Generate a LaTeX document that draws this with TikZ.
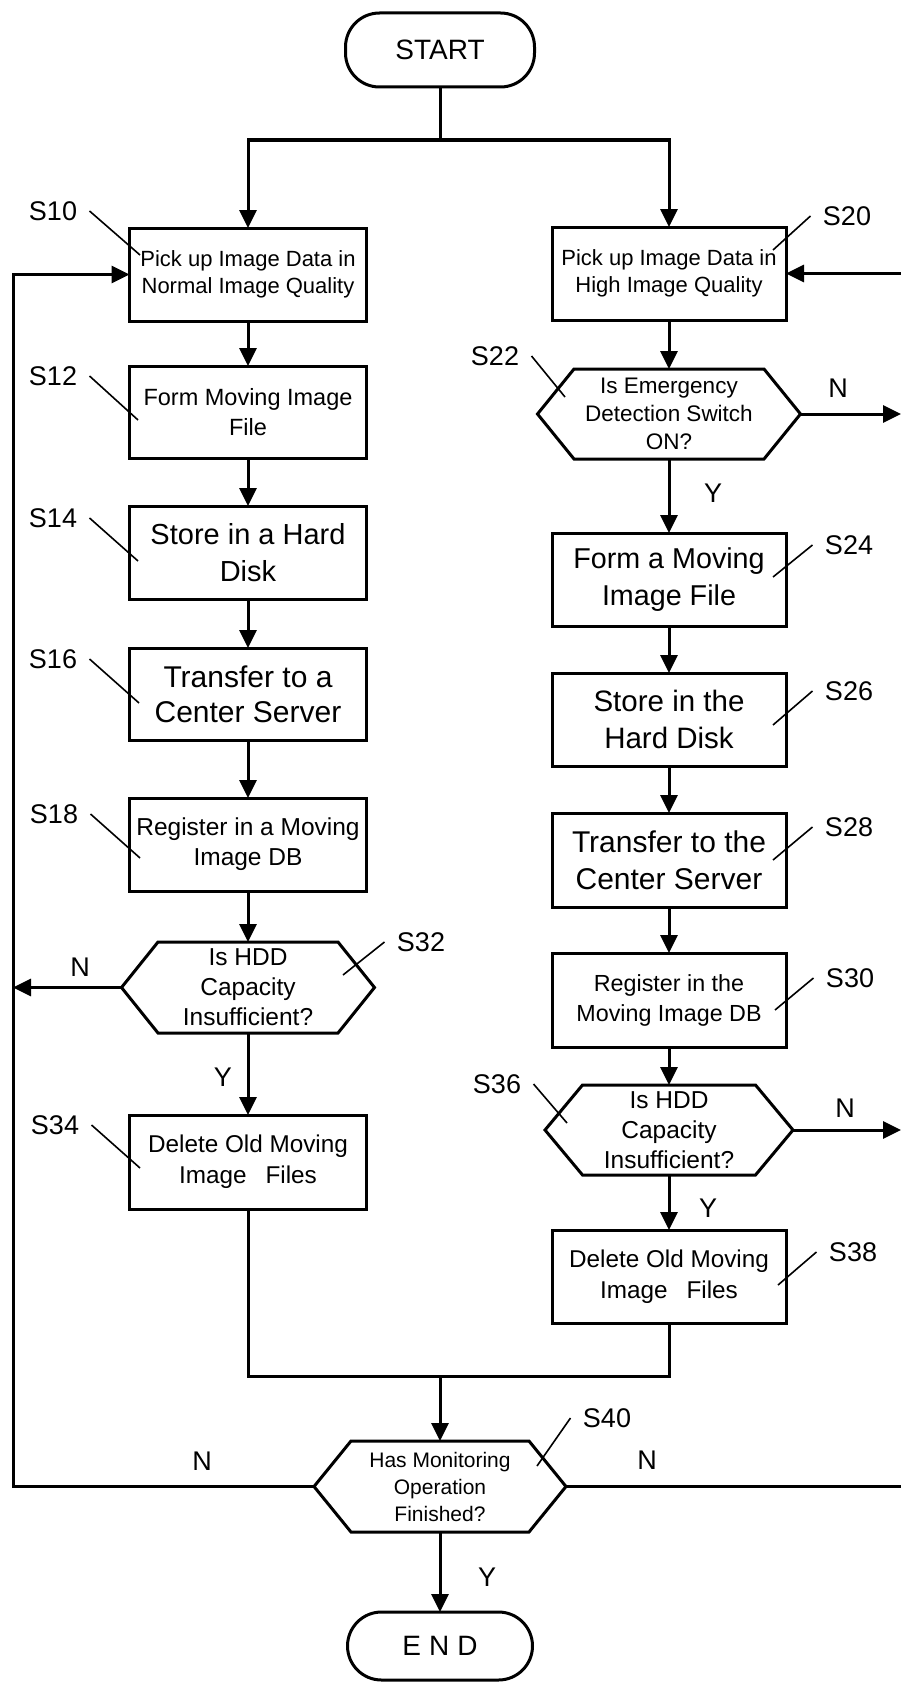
\documentclass[tikz,border=0pt]{standalone}
\usepackage{fontspec}
\setmainfont{Liberation Sans}
\usetikzlibrary{arrows.meta}
\newcommand{\myfs}[2]{\fontsize{#1}{#2}\selectfont}
\newcommand{\hexout}[2]{\draw[line width=3pt,line join=miter] ([xshift=#2pt]#1.north west) -- ([xshift=-#2pt]#1.north east) -- (#1.east) -- ([xshift=-#2pt]#1.south east) -- ([xshift=#2pt]#1.south west) -- (#1.west) -- cycle;}
\begin{document}
\begin{tikzpicture}[x=1pt,y=-1pt,
  line width=3pt,
  lbox/.style={draw, line width=3pt, minimum width=237pt, minimum height=93pt, inner sep=0pt, outer sep=0pt, align=center},
  rbox/.style={lbox, minimum width=234pt},
  hexa/.style={inner sep=0pt, outer sep=0pt, align=center},
  term/.style={draw, line width=3pt, rounded corners=34pt, minimum width=189pt, minimum height=74pt, inner sep=0pt, outer sep=0pt},
  arr/.style={-{Triangle[length=18pt,width=17pt]}},
  lead/.style={line width=1.6pt},
  slab/.style={inner sep=0pt, font=\myfs{27}{32}},
  yn/.style={inner sep=0pt, font=\myfs{27}{32}}
]
\useasboundingbox (0,0) rectangle (901,1683);

% terminals
\node[term, font=\myfs{28}{32}] (start) at (440,50) {START};
\node[term, minimum width=185pt, minimum height=68pt, font=\myfs{28}{32}] (end) at (440,1646) {E\hspace{8pt}N\hspace{8pt}D};

% left column
\node[lbox, font=\myfs{22}{27}] (s10) at (248,274.5) {Pick up Image Data in\\Normal Image Quality};
\node[lbox, minimum height=92pt, font=\myfs{23.5}{30}] (s12) at (248,412) {Form Moving Image\\File};
\node[lbox, font=\myfs{29}{37}] (s14) at (248,552.5) {Store in a Hard\\Disk};
\node[lbox, minimum height=92pt, font=\myfs{30}{35}] (s16) at (248,694) {Transfer to a\\Center Server};
\node[lbox, font=\myfs{24.5}{30}] (s18) at (248,844.5) {Register in a Moving\\Image DB};
\node[hexa, minimum width=253pt, minimum height=91pt, font=\myfs{24.5}{30}] (s32) at (248,987.5) {Is HDD\\Capacity\\Insufficient?};
\node[lbox, minimum height=94pt, font=\myfs{24.3}{31}] (s34) at (248,1162) {Delete Old Moving\\Image\hspace{0.5em} Files};

% right column
\node[rbox, font=\myfs{22}{27}] (s20) at (669,273.5) {Pick up Image Data in\\High Image Quality};
\node[hexa, minimum width=263pt, minimum height=90pt, font=\myfs{22.5}{28}] (s22) at (669,414) {Is Emergency\\Detection Switch\\ON?};
\node[rbox, font=\myfs{28.7}{37}] (s24) at (669,579.5) {Form a Moving\\Image File};
\node[rbox, font=\myfs{29.5}{37}] (s26) at (669,719.5) {Store in the\\Hard Disk};
\node[rbox, minimum height=94pt, font=\myfs{30}{37}] (s28) at (669,860) {Transfer to the\\Center Server};
\node[rbox, minimum height=94pt, font=\myfs{23.3}{30}] (s30) at (669,1000) {Register in the\\Moving Image DB};
\node[hexa, minimum width=248pt, minimum height=90pt, font=\myfs{24.5}{30}] (s36) at (669,1130) {Is HDD\\Capacity\\Insufficient?};
\node[rbox, font=\myfs{24.3}{31}] (s38) at (669,1276.5) {Delete Old Moving\\Image\hspace{0.5em} Files};

% center decision
\node[hexa, minimum width=252pt, minimum height=91pt, font=\myfs{21}{27}] (s40) at (440,1486.5) {Has Monitoring\\Operation\\Finished?};

\hexout{s22}{36.5}
\hexout{s32}{36.5}
\hexout{s36}{37.5}
\hexout{s40}{37}

% helper coordinates
\coordinate (split) at (440,140);
\coordinate (merge) at (440,1376);
\coordinate (lb) at (13,1486.5);
\coordinate (rb) at (901,1486.5);
\coordinate (rt) at (901,273.5);

% connectors
\draw (start.south) -- (split);
\draw[arr] (split) -| (s10.north);
\draw[arr] (split) -| (s20.north);
\draw[arr] (s10) -- (s12);
\draw[arr] (s12) -- (s14);
\draw[arr] (s14) -- (s16);
\draw[arr] (s16) -- (s18);
\draw[arr] (s18.south) -- (s32.north);
\draw[arr] (s32.south) -- (s34.north);
\draw (s34.south) |- (merge);
\draw[arr] (s20.south) -- (s22.north);
\draw[arr] (s22.south) -- (s24.north);
\draw[arr] (s24) -- (s26);
\draw[arr] (s26) -- (s28);
\draw[arr] (s28) -- (s30);
\draw[arr] (s30.south) -- (s36.north);
\draw[arr] (s36.south) -- (s38.north);
\draw (s38.south) |- (merge);
\draw[arr] (merge) -- (s40.north);
\draw[arr] (s40.south) -- (end.north);
\draw[arr] (s40.west) -- (lb) |- (s10.west);
\draw[arr] (s32.west) -- (s32.west -| lb);
\draw (s40.east) -- (rb);
\draw[arr] (rt) -- (s20.east);
\draw[arr] (s22.east) -- (s22.east -| rb);
\draw[arr] (s36.east) -- (s36.east -| rb);

% Y / N labels
\node[yn] (n22) at (838,388) {N};
\node[yn] (y22) at (713,493) {Y};
\node[yn] (n32) at (80,967) {N};
\node[yn] (y32) at (223,1077) {Y};
\node[yn] (n36) at (845,1108) {N};
\node[yn] (y36) at (708,1208) {Y};
\node[yn] (n40l) at (202,1461) {N};
\node[yn] (n40r) at (647,1460) {N};
\node[yn] (y40) at (487,1577) {Y};

% step labels
\node[slab] (l10) at (53,211) {S10};
\node[slab] (l12) at (53,376) {S12};
\node[slab] (l14) at (53,518) {S14};
\node[slab] (l16) at (53,659) {S16};
\node[slab] (l18) at (54,814) {S18};
\node[slab] (l34) at (55,1125) {S34};
\node[slab] (l22) at (495,356) {S22};
\node[slab] (l32) at (421,942) {S32};
\node[slab] (l36) at (497,1084) {S36};
\node[slab] (l20) at (847,216) {S20};
\node[slab] (l24) at (849,545) {S24};
\node[slab] (l26) at (849,691) {S26};
\node[slab] (l28) at (849,827) {S28};
\node[slab] (l30) at (850,978) {S30};
\node[slab] (l38) at (853,1252) {S38};
\node[slab] (l40) at (607,1418) {S40};

% leader end points
\coordinate (e10) at (140,255);
\coordinate (e12) at (138,420);
\coordinate (e14) at (138,561);
\coordinate (e16) at (139,703);
\coordinate (e18) at (140,858);
\coordinate (e34) at (140,1168);
\coordinate (e22) at (565,397);
\coordinate (e36) at (567,1123);
\coordinate (e32) at (343,975);
\coordinate (e20) at (773,250);
\coordinate (e24) at (773,577);
\coordinate (e26) at (773,725);
\coordinate (e28) at (773,860);
\coordinate (e30) at (775,1010);
\coordinate (e38) at (778,1285);
\coordinate (e40) at (537,1466);

\draw[lead] ([xshift=11pt]l10.east) -- (e10);
\draw[lead] ([xshift=11pt]l12.east) -- (e12);
\draw[lead] ([xshift=11pt]l14.east) -- (e14);
\draw[lead] ([xshift=11pt]l16.east) -- (e16);
\draw[lead] ([xshift=11pt]l18.east) -- (e18);
\draw[lead] ([xshift=11pt]l34.east) -- (e34);
\draw[lead] ([xshift=11pt]l22.east) -- (e22);
\draw[lead] ([xshift=11pt]l36.east) -- (e36);
\draw[lead] ([xshift=-11pt]l32.west) -- (e32);
\draw[lead] ([xshift=-11pt]l20.west) -- (e20);
\draw[lead] ([xshift=-11pt]l24.west) -- (e24);
\draw[lead] ([xshift=-11pt]l26.west) -- (e26);
\draw[lead] ([xshift=-11pt]l28.west) -- (e28);
\draw[lead] ([xshift=-11pt]l30.west) -- (e30);
\draw[lead] ([xshift=-11pt]l38.west) -- (e38);
\draw[lead] ([xshift=-11pt]l40.west) -- (e40);
\end{tikzpicture}
\end{document}
